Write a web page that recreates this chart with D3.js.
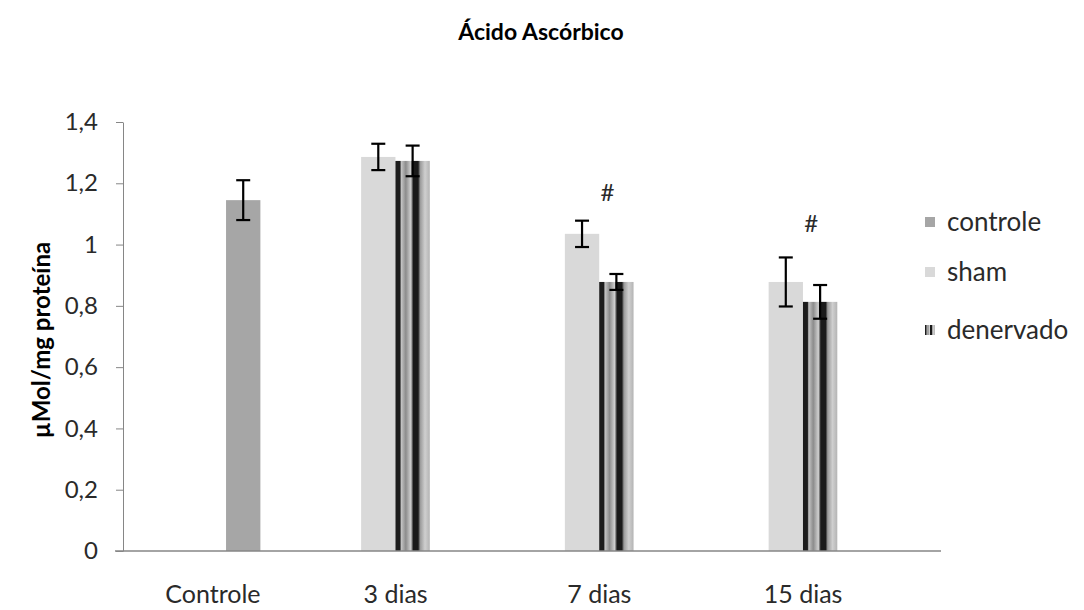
<!DOCTYPE html>
<html>
<head>
<meta charset="utf-8">
<script src="https://cdn.jsdelivr.net/npm/d3@7"></script>
<style>
	body{margin:0;background:#fff;}
	svg{display:block;font-family:Lato,"Open Sans",sans-serif;}
</style>
</head>
<body>
<svg width="1084" height="610"></svg>
<script>
// data
var categories=["Controle","3 dias","7 dias","15 dias"];
var seriesNames=["controle","sham","denervado"];
var controleValues=[1.145,null,null,null];
var controleErrors=[0.065,null,null,null];
var shamValues=[null,1.286,1.035,0.878];
var shamErrors=[null,0.043,0.043,0.080];
var denervadoValues=[null,1.273,0.878,0.813];
var denervadoErrors=[null,0.050,0.026,0.055];
var yTicks=[0,0.2,0.4,0.6,0.8,1,1.2,1.4];
var yTickLabels=["0","0,2","0,4","0,6","0,8","1","1,2","1,4"];
var marks=[{cat:"7 dias",text:"#",value:1.17},{cat:"15 dias",text:"#",value:1.07}];

var svg=d3.select("svg");
var axisColour="#868686";
var textColour="#2a2a2a";
var fills={controle:"#a6a6a6",sham:"#d9d9d9",denervado:"url(#denGrad)"};

// striped gradient used for the denervado series
var defs=svg.append("defs");
var grad=defs.append("linearGradient").attr("id","denGrad")
	.attr("x1","0%").attr("x2","100%").attr("y1","0%").attr("y2","0%");
[[0,"#1c1c1c"],[0.13,"#1c1c1c"],[0.17,"#c4c4c4"],[0.3,"#8c8c8c"],[0.45,"#d0d0d0"],
 [0.52,"#1a1a1a"],[0.66,"#1a1a1a"],[0.72,"#9a9a9a"],[0.86,"#cfcfcf"],[1,"#b4b4b4"]]
	.forEach(function(s){grad.append("stop").attr("offset",s[0]).attr("stop-color",s[1]);});

var y=d3.scaleLinear().domain([0,1.4]).range([551,122]);
var x=d3.scaleBand().domain(categories).range([90,905]);
// bar slots inside one category (controle sits right of the pair)
var sub=d3.scaleBand().domain(["sham","denervado","controle"]).range([-34.5,68.5]);

function centre(c){return x(c)+x.bandwidth()/2;};

// y axis
var yAxis=d3.axisLeft(y).tickValues(yTicks)
	.tickFormat(function(d,i){return yTickLabels[i];})
	.tickSizeInner(7).tickSizeOuter(0).tickPadding(18);
var gy=svg.append("g").attr("transform","translate(123,0)").call(yAxis);
gy.select(".domain").attr("stroke",axisColour);
gy.selectAll(".tick line").attr("stroke",axisColour);
gy.selectAll(".tick text").attr("fill",textColour).style("font-size","24px").style("font-family","Lato,sans-serif");

// bars
var rows=[];
categories.forEach(function(c,i)
{
	if(controleValues[i]!=null) rows.push({cat:c,s:"controle",v:controleValues[i],e:controleErrors[i]});
	if(shamValues[i]!=null) rows.push({cat:c,s:"sham",v:shamValues[i],e:shamErrors[i]});
	if(denervadoValues[i]!=null) rows.push({cat:c,s:"denervado",v:denervadoValues[i],e:denervadoErrors[i]});
});

var gb=svg.append("g");
gb.selectAll("rect").data(rows).enter().append("rect")
	.attr("x",function(d){return centre(d.cat)+sub(d.s);})
	.attr("y",function(d){return y(d.v);})
	.attr("width",sub.bandwidth())
	.attr("height",function(d){return y(0)-y(d.v);})
	.attr("fill",function(d){return fills[d.s];});

// x axis line and category labels
svg.append("line").attr("x1",115).attr("x2",941).attr("y1",y(0)).attr("y2",y(0))
	.attr("stroke",axisColour).attr("stroke-width",1.3);
var xAxis=d3.axisBottom(x).tickSize(0).tickPadding(34);
var gx=svg.append("g").attr("transform","translate(0,"+y(0)+")").call(xAxis);
gx.select(".domain").remove();
gx.selectAll(".tick text").attr("fill",textColour).style("font-size","25px").style("font-family","Lato,sans-serif")
	.attr("dx",function(d,i){return i==0?21:0;}); // "Controle" label sits right of its band centre

// error bars
var ge=svg.append("g").attr("stroke","#000").attr("stroke-width",2.2).attr("fill","none");
rows.forEach(function(d)
{
	var cx=centre(d.cat)+sub(d.s)+sub.bandwidth()/2;
	ge.append("line").attr("x1",cx).attr("x2",cx).attr("y1",y(d.v+d.e)).attr("y2",y(d.v-d.e));
	ge.append("line").attr("x1",cx-7).attr("x2",cx+7).attr("y1",y(d.v+d.e)).attr("y2",y(d.v+d.e));
	ge.append("line").attr("x1",cx-7).attr("x2",cx+7).attr("y1",y(d.v-d.e)).attr("y2",y(d.v-d.e));
});

// significance marks
svg.selectAll(".mark").data(marks).enter().append("text").attr("class","mark")
	.attr("x",function(d){return centre(d.cat)+8;})
	.attr("y",function(d){return y(d.value);})
	.attr("dy","0.35em").attr("text-anchor","middle")
	.style("font-size","24px").attr("fill",textColour)
	.text(function(d){return d.text;});

// title
svg.append("text").attr("x",541).attr("y",40).attr("text-anchor","middle")
	.style("font-size","23px").style("font-weight","bold").attr("fill","#000")
	.text("Ácido Ascórbico");

// y label
svg.append("text").attr("transform","translate(50,340) rotate(-90)").attr("text-anchor","middle")
	.style("font-size","24px").style("font-weight","bold").attr("fill","#000")
	.text("µMol/mg proteína");

// legend
var legendY=[222,272,330];
var lg=svg.selectAll(".leg").data(seriesNames).enter().append("g").attr("class","leg")
	.attr("transform",function(d,i){return "translate(925,"+legendY[i]+")";});
lg.append("rect").attr("x",0).attr("y",-5).attr("width",10).attr("height",10)
	.attr("fill",function(d){return fills[d];});
lg.append("text").attr("x",22).attr("dy","0.35em").style("font-size","26px").attr("fill",textColour)
	.text(function(d){return d;});
</script>
</body>
</html>
